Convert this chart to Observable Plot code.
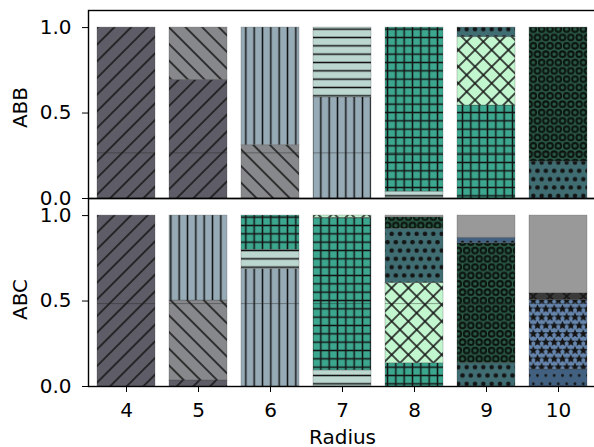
<!DOCTYPE html>
<html><head><meta charset="utf-8">
<script src="https://cdn.jsdelivr.net/npm/d3@7"></script>
<script src="https://cdn.jsdelivr.net/npm/@observablehq/plot@0.6"></script>
<style>
body{margin:0;background:#fff;font-family:"DejaVu Sans",sans-serif}
#chart svg text{font-size:20px;font-family:"DejaVu Sans",sans-serif;fill:#000}
</style>
</head><body>
<svg width="0" height="0" style="position:absolute"><defs id="defs"></defs></svg>
<div id="chart"></div>
<script>
// ---- data ----
const radii = [4, 5, 6, 7, 8, 9, 10];
const groups = ["ABB", "ABC"];
const categories = ["c0","c1","c2","c3","c4","c5","c6","c7","c8","c9","c10","c11"];
const hatches = ["/", "\\", "|", "-", "+", "x", "o", "O", ".", "*", "x", ""];
const colors = ["#5e5d67","#87888b","#97abb7","#bcd6d0","#3ca78f","#c2f6cf",
                "#3f6d72","#2b5a45","#42607f","#6585ad","#3a3a3a","#999999"];
// rows: category c0..c11 ; columns: radius 4..10
const abbValues = [
  [1.000, 0.694, 0,     0,     0,     0,     0    ],
  [0,     0.306, 0.312, 0,     0,     0,     0    ],
  [0,     0,     0.688, 0.592, 0,     0,     0    ],
  [0,     0,     0,     0.408, 0.040, 0,     0    ],
  [0,     0,     0,     0,     0.960, 0.544, 0    ],
  [0,     0,     0,     0,     0,     0.400, 0    ],
  [0,     0,     0,     0,     0,     0.056, 0.216],
  [0,     0,     0,     0,     0,     0,     0.784],
  [0,     0,     0,     0,     0,     0,     0    ],
  [0,     0,     0,     0,     0,     0,     0    ],
  [0,     0,     0,     0,     0,     0,     0    ],
  [0,     0,     0,     0,     0,     0,     0    ]
];
const abcValues = [
  [1.000, 0.035, 0,     0,     0,     0,     0    ],
  [0,     0.468, 0,     0,     0,     0,     0    ],
  [0,     0.497, 0.688, 0,     0,     0,     0    ],
  [0,     0,     0.111, 0.094, 0,     0,     0    ],
  [0,     0,     0.201, 0.893, 0.136, 0,     0    ],
  [0,     0,     0,     0.013, 0.470, 0,     0    ],
  [0,     0,     0,     0,     0.316, 0.136, 0    ],
  [0,     0,     0,     0,     0.068, 0.702, 0    ],
  [0,     0,     0,     0,     0,     0.032, 0.100],
  [0,     0,     0,     0,     0,     0,     0.407],
  [0,     0,     0,     0,     0,     0,     0.039],
  [0,     0,     0,     0,     0.010, 0.130, 0.454]
];
const splitLevels = [0.267, 0.485]; // faint internal boundary per group
const yTicks = [0, 0.5, 1.0];

// ---- hatch patterns ----
const S = 100 / 12;
const D = 2 * S / Math.SQRT2;
const ink = "#141414";
const defs = d3.select("#defs");
function star(cx, cy, R, r) {
  const pts = [];
  for (let k = 0; k < 10; k++) {
    const a = -Math.PI / 2 + k * Math.PI / 5, rr = k % 2 ? r : R;
    pts.push([cx + rr * Math.cos(a), cy + rr * Math.sin(a)]);
  }
  return "M" + pts.map(p => p.join(",")).join("L") + "Z";
}
categories.forEach((c, i) => {
  const h = hatches[i];
  let w = S, ht = S, rot = 0;
  if (h === "/" || h === "\\" || h === "x") { w = ht = D; rot = h === "\\" ? -45 : 45; }
  if (h !== "" && "oO.*".includes(h)) { w = S; ht = 2 * S; }
  const p = defs.append("pattern").attr("id", "h" + i)
    .attr("patternUnits", "userSpaceOnUse").attr("width", w).attr("height", ht);
  if (rot) p.attr("patternTransform", `rotate(${rot})`);
  p.append("rect").attr("width", w).attr("height", ht).attr("fill", colors[i]);
  const line = (x1, y1, x2, y2) => p.append("line").attr("x1", x1).attr("y1", y1)
    .attr("x2", x2).attr("y2", y2).attr("stroke", ink).attr("stroke-width", 1.5);
  const spots = [[S / 2, S / 2], [0, 1.5 * S], [S, 1.5 * S]];
  if (h === "/" || h === "\\") line(w / 2, -1, w / 2, ht + 1);
  if (h === "x") { line(w / 2, -1, w / 2, ht + 1); line(-1, ht / 2, w + 1, ht / 2); }
  if (h === "|") line(w / 2, -1, w / 2, ht + 1);
  if (h === "-") line(-1, ht / 2, w + 1, ht / 2);
  if (h === "+") { line(w / 2, -1, w / 2, ht + 1); line(-1, ht / 2, w + 1, ht / 2); }
  if (h === "o") spots.forEach(([x, y]) => p.append("circle").attr("cx", x).attr("cy", y)
    .attr("r", 1.7).attr("fill", ink).attr("stroke", ink).attr("stroke-width", 1.2));
  if (h === "O") spots.forEach(([x, y]) => p.append("circle").attr("cx", x).attr("cy", y)
    .attr("r", 2.8).attr("fill", "none").attr("stroke", "#0b1510").attr("stroke-width", 2));
  if (h === ".") spots.forEach(([x, y]) => p.append("circle").attr("cx", x).attr("cy", y)
    .attr("r", 0.9).attr("fill", ink).attr("stroke", ink).attr("stroke-width", 1));
  if (h === "*") spots.forEach(([x, y]) => p.append("path").attr("d", star(x, y, 3.3, 1.5))
    .attr("fill", ink).attr("stroke", ink).attr("stroke-width", 1));
});

// ---- table ----
const table = [];
[abbValues, abcValues].forEach((vals, g) => {
  vals.forEach((row, ci) => {
    row.forEach((v, ri) => {
      if (v > 0) table.push({group: groups[g], radius: radii[ri], cat: categories[ci], value: v});
    });
  });
});
const splits = [];
groups.forEach((g, gi) => radii.forEach(r => splits.push({group: g, radius: r, y: splitLevels[gi]})));

const chart = Plot.plot({
  width: 594,
  height: 447,
  marginLeft: 88,
  marginRight: -2,
  marginTop: 10,
  marginBottom: 61,
  style: {fontSize: "20px", fontFamily: "DejaVu Sans, sans-serif", color: "black", background: "white"},
  x: {domain: radii, paddingInner: 0.2, paddingOuter: 0.1, tickSize: 6, tickPadding: 10, label: "Radius", labelAnchor: "center", labelOffset: 57},
  y: {domain: [0, 1.1], ticks: yTicks, tickFormat: d3.format(".1f"), tickSize: 6, tickPadding: 11, label: null},
  fy: {domain: groups, padding: 0, axis: null, label: null},
  color: {domain: categories, range: categories.map((c, i) => `url(#h${i})`)},
  marks: [
    Plot.barY(table, {x: "radius", y: "value", fy: "group", fill: "cat", z: "cat",
      stroke: "#333", strokeWidth: 0.8, strokeOpacity: 0.3}),
    Plot.tickY(splits, {x: "radius", y: "y", fy: "group", stroke: "#222", strokeOpacity: 0.4, strokeWidth: 1}),
    Plot.text(groups.slice(0, 1), {fy: d => d, text: d => d, frameAnchor: "left", textAnchor: "middle", dx: -68, dy: 3, rotate: -90}),
    Plot.text(groups.slice(1), {fy: d => d, text: d => d, frameAnchor: "left", textAnchor: "middle", dx: -68, dy: 7, rotate: -90}),
    Plot.frame({stroke: "black", strokeWidth: 1.4})
  ]
});
document.getElementById("chart").appendChild(chart);
</script>
</body></html>
